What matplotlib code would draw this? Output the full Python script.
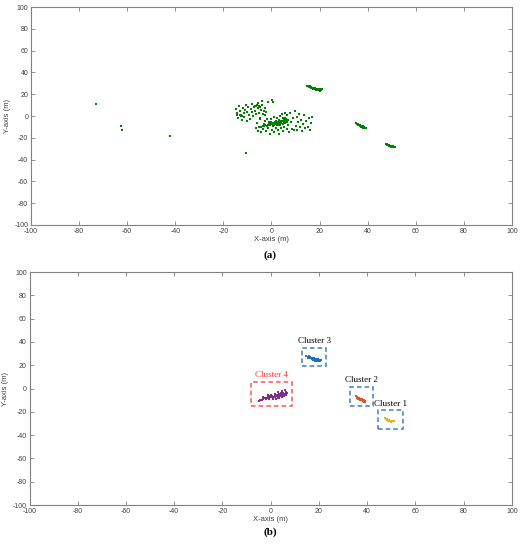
import matplotlib.pyplot as plt
from matplotlib.patches import Rectangle

plt.rcParams['axes.unicode_minus'] = False
plt.rcParams['font.family'] = ['Liberation Sans', 'DejaVu Sans']

# far isolated points (only in panel a)
noise_x = [-73.0, -62.5, -62.0, -42.0, -10.5]
noise_y = [11.5, -9.5, -13.0, -18.6, -34.0]

# sparse cloud around the origin (only in panel a)
cloud_x = [-14.8, -14.5, -14.2, -13.9, -13.6, -13.2, -12.9, -12.7, -12.3, -12.0,
           -11.6, -11.3, -11.0, -10.6, -10.3, -10.0, -9.6, -9.3, -9.0, -8.6,
           -8.3, -8.0, -7.6, -7.3, -7.0, -6.6, -6.3, -6.0, -5.6, -5.3,
           -5.0, -4.6, -4.3, -4.0, -3.6, -3.3, -2.9, -2.5, -2.1, -1.8,
           -4.0, -1.5, 0.5, -5.5, 0.2,
           -6.0, -6.5, -5.5, -4.8, -4.2, -3.7, -2.8, -2.2, -1.6, -0.8,
           -0.4, 0.2, 0.9, 1.2, 1.7, 2.1, 2.6, 3.1, 3.4, 3.9,
           4.3, 4.9, 5.2, 5.7, 6.3, 6.6, 7.0, 7.4, 7.8, 8.1,
           8.5, 8.9, 9.3, 9.6, 10.0, 10.4, 10.8, 11.2, 11.6, 12.0,
           12.4, 12.8, 13.2, 13.6, 14.0, 14.5, 15.0, 15.5, 16.0, 16.6, 17.0,
           -12.6, -12.2, -5.2, -4.8, -6.8]
cloud_y = [6.5, 3.2, 0.8, -1.5, 9.2, 4.8, 1.2, 0.5, -3.5, 7.6,
           2.7, -0.8, 5.4, 10.1, -4.2, 3.9, 8.0, 1.0, -2.6, 6.2,
           10.8, 3.4, -0.4, 8.6, 5.0, 1.8, 9.6, 10.4, 7.2, 3.0,
           8.9, -1.6, 6.0, 9.8, 2.2, 4.6, 7.4, 0.6, 3.8, -2.8,
           14.2, 13.0, 12.6, 12.2, 14.8,
           -6.0, -11.0, -13.5, -3.0, -15.0, -12.0, -4.2, -13.8, -11.2, -16.2,
           -2.6, -12.6, -1.2, -14.8, -10.8, -2.0, -12.8, -16.6, 0.4, -11.4,
           1.8, -14.0, -10.2, 3.2, -12.2, 0.6, -8.2, -14.6, 2.4, -5.8,
           -11.6, -2.2, -13.2, 4.2, -8.8, -0.8, -12.4, -5.2, 2.0, -10.4,
           -3.4, -14.0, -7.0, 0.8, -11.2, -4.6, -9.6, -2.0, -12.8, -6.6, -0.8,
           1.4, 0.2, 9.0, 8.4, 9.4]

# cluster 1
c1_x = [47.6, 48.0, 48.4, 48.8, 49.2, 49.6, 50.0, 50.4, 50.8, 51.2, 48.3, 48.7, 49.1, 47.9, 50.6, 49.9]
c1_y = [-25.5, -25.9, -26.3, -26.8, -27.2, -27.6, -27.9, -28.1, -28.2, -28.0, -27.0, -27.5, -27.8, -26.4, -27.6, -28.4]

# cluster 2
c2_x = [35.2, 35.6, 36.0, 36.4, 36.8, 37.2, 37.6, 38.0, 38.4, 38.8, 39.1, 36.6, 37.0, 37.6,
        38.2, 38.6, 39.3, 35.8, 37.9, 36.2, 37.3, 38.5]
c2_y = [-6.8, -7.2, -7.6, -8.0, -8.4, -8.8, -9.2, -9.7, -10.2, -10.7, -11.2, -9.0, -9.5, -10.0,
        -10.8, -11.4, -10.6, -8.0, -8.8, -8.6, -9.9, -9.6]

# cluster 3
c3_x = [14.8, 15.3, 15.8, 16.2, 16.6, 17.0, 17.4, 17.8, 18.2, 18.6, 19.0, 19.4, 19.8, 20.2, 20.6,
        17.5, 18.0, 18.5, 19.0, 19.5, 20.0, 20.5, 20.8, 16.0, 17.2, 18.8, 16.5, 19.6, 20.3, 15.5,
        18.4, 19.2, 20.0, 17.8]
c3_y = [27.6, 27.4, 27.0, 26.9, 26.5, 26.2, 25.9, 25.6, 25.3, 25.0, 24.6, 24.3, 24.0, 23.8, 23.6,
        24.8, 24.5, 24.2, 23.9, 23.6, 23.4, 23.9, 24.4, 27.8, 25.2, 23.5, 25.8, 25.0, 24.8, 26.5,
        24.0, 24.9, 24.4, 26.0]

# cluster 4
c4_x = [-5.0, -4.3, -3.6, -3.0, -2.5, -2.0, -1.5, -1.0, -0.6, -0.2, 0.3, 0.6, 1.0, 1.3, 1.6, 2.0,
        2.3, 2.6, 2.9, 3.2, 3.5, 3.8, 4.1, 4.4, 4.7, 5.0, 5.3, 5.6, 5.9, 6.2, 6.5, 6.8,
        0.0, 1.8, -1.2, 3.0, 4.8, 2.2, -3.2, 0.8, 5.8, 3.6, 1.5, 2.7, 0.4, -0.5, 2.4, 3.3]
c4_y = [-10.5, -9.8, -9.5, -9.0, -8.2, -9.4, -8.0, -7.4, -8.6, -6.8, -7.5, -6.2, -8.0, -6.9, -5.8, -7.2,
        -6.3, -5.2, -7.8, -6.0, -4.8, -6.8, -5.5, -4.2, -7.0, -5.8, -3.6, -6.4, -4.9, -2.8, -5.6, -3.9,
        -5.5, -4.6, -5.9, -3.2, -2.0, -8.6, -7.4, -9.2, -1.5, -8.2, -7.5, -6.6, -6.6, -7.0, -5.8, -7.0]

# boxes (x0, x1, y0, y1) and labels
box_names = ['Cluster 1', 'Cluster 2', 'Cluster 3', 'Cluster 4']
box_x0 = [44.5, 33.0, 13.0, -8.0]
box_x1 = [55.0, 42.5, 23.0, 9.0]
box_y0 = [-35.0, -15.0, 19.0, -15.0]
box_y1 = [-18.5, 1.5, 35.0, 6.0]
box_colors = ['#3d7ebf', '#3d7ebf', '#3d7ebf', '#ff5555']
text_colors = ['black', 'black', 'black', '#ff3333']
point_colors = ['#edb120', '#e8521a', '#1f6fbf', '#7e2f8e']

green = '#008000'
ticks = list(range(-100, 101, 20))

fig = plt.figure(figsize=(5.3, 5.5), dpi=100)
ax1 = fig.add_axes([0.0585, 0.591, 0.9075, 0.396])
ax2 = fig.add_axes([0.0557, 0.0818, 0.910, 0.4236])


def style(ax):
    ax.set_xlim(-100, 100)
    ax.set_ylim(-100, 100)
    ax.set_xticks(ticks)
    ax.set_yticks(ticks)
    ax.tick_params(direction='in', length=3, width=0.6, color='#808080',
                   labelsize=5, labelcolor='#404040', top=True, right=True, pad=2)
    for s in ax.spines.values():
        s.set_color('#808080')
        s.set_linewidth(0.8)
    ax.set_xlabel('X-axis (m)', fontsize=5.5, color='#404040', labelpad=1)
    ax.set_ylabel('Y-axis (m)', fontsize=5.5, color='#404040')
    ax.yaxis.set_label_coords(-0.042, 0.5)


all_x = noise_x + cloud_x + c1_x + c2_x + c3_x + c4_x
all_y = noise_y + cloud_y + c1_y + c2_y + c3_y + c4_y
ax1.scatter(all_x, all_y, s=1.8, marker='s', c=green, linewidths=0)
style(ax1)

groups = [(c1_x, c1_y), (c2_x, c2_y), (c3_x, c3_y), (c4_x, c4_y)]
for i, (gx, gy) in enumerate(groups):
    ax2.scatter(gx, gy, s=1.8, marker='s', c=point_colors[i], linewidths=0)
    ax2.add_patch(Rectangle((box_x0[i], box_y0[i]), box_x1[i] - box_x0[i], box_y1[i] - box_y0[i],
                            fill=False, edgecolor=box_colors[i], linestyle=(0, (3, 2)), linewidth=1.1))
    ax2.text((box_x0[i] + box_x1[i]) / 2, box_y1[i] + 2, box_names[i], ha='center', va='bottom',
             fontsize=6.5, family='Liberation Serif', color=text_colors[i])
style(ax2)

fig.text(0.51, 0.536, '(a)', ha='center', va='center', fontsize=8, weight='bold', family='Liberation Serif')
fig.text(0.51, 0.033, '(b)', ha='center', va='center', fontsize=8, weight='bold', family='Liberation Serif')

fig.savefig('out.png', dpi=100)
